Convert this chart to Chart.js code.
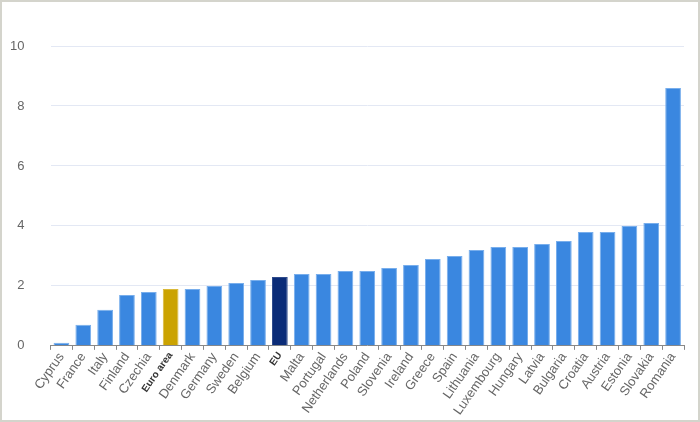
<!DOCTYPE html>
<html>
<head>
<meta charset="utf-8">
<script src="https://cdn.jsdelivr.net/npm/chart.js@4"></script>
<style>
    html, body { margin: 0; padding: 0; background: #fff; }
    #wrap {
        width: 696px;
        height: 418px;
        border: 2px solid #d4d4cc;
        position: relative;
    }
</style>
</head>
<body>
<div id="wrap"><canvas id="chart" width="696" height="418"></canvas></div>
<script>
    var countries = ['Cyprus', 'France', 'Italy', 'Finland', 'Czechia', 'Euro area', 'Denmark', 'Germany', 'Sweden', 'Belgium',
        'EU', 'Malta', 'Portugal', 'Netherlands', 'Poland', 'Slovenia', 'Ireland', 'Greece', 'Spain', 'Lithuania',
        'Luxembourg', 'Hungary', 'Latvia', 'Bulgaria', 'Croatia', 'Austria', 'Estonia', 'Slovakia', 'Romania'];
    var values = [0.1, 0.7, 1.2, 1.7, 1.8, 1.9, 1.9, 2.0, 2.1, 2.2,
        2.3, 2.4, 2.4, 2.5, 2.5, 2.6, 2.7, 2.9, 3.0, 3.2,
        3.3, 3.3, 3.4, 3.5, 3.8, 3.8, 4.0, 4.1, 8.6];
    var yTicks = [0, 2, 4, 6, 8, 10];

    var isAggregate = function(name) {
        return name === 'Euro area' || name === 'EU';
    };

    var barColor = function(name) {
        if (name === 'Euro area') return '#cba300';
        if (name === 'EU') return '#0b2c78';
        return '#3a87e0';
    };

    var borderColor = function(name) {
        if (name === 'Euro area') return '#d9b93a';
        if (name === 'EU') return '#2f4b8c';
        return '#78aeec';
    };

    var ctx = document.getElementById('chart');
    var chart = new Chart(ctx, {
        type: 'bar',
        data: {
            labels: countries,
            datasets: [{
                data: values,
                backgroundColor: countries.map(barColor),
                borderColor: countries.map(borderColor),
                borderWidth: 1,
                categoryPercentage: 0.8,
                barPercentage: 0.9
            }]
        },
        options: {
            responsive: false,
            animation: false,
            layout: {
                padding: { top: 44, right: 14, left: 8, bottom: 2 }
            },
            plugins: {
                legend: { display: false },
                tooltip: { enabled: false }
            },
            scales: {
                x: {
                    afterFit: function(scale) {
                        scale.paddingLeft = 0;
                        scale.paddingRight = 0;
                    },
                    grid: {
                        display: true,
                        drawOnChartArea: false,
                        drawTicks: true,
                        tickLength: 4,
                        color: '#888'
                    },
                    border: { display: true, color: '#888' },
                    ticks: {
                        autoSkip: false,
                        minRotation: 55,
                        maxRotation: 55,
                        padding: 0,
                        color: function(c) {
                            return isAggregate(countries[c.index]) ? '#333' : '#666';
                        },
                        font: function(c) {
                            if (isAggregate(countries[c.index]))
                                return { family: 'Liberation Sans, Arial', size: 10, weight: 'bold' };
                            return { family: 'Liberation Sans, Arial', size: 13 };
                        }
                    }
                },
                y: {
                    min: 0,
                    max: 10,
                    afterBuildTicks: function(axis) {
                        axis.ticks = yTicks.map(function(v) { return { value: v }; });
                    },
                    afterFit: function(scale) {
                        scale.width = 40.5;
                    },
                    grid: {
                        color: function(c) { return c.tick.value === 0 ? 'rgba(0,0,0,0)' : '#e3e8f4'; },
                        drawTicks: false
                    },
                    border: { display: false },
                    ticks: {
                        padding: 26,
                        color: '#666',
                        font: { family: 'Liberation Sans, Arial', size: 13 }
                    }
                }
            }
        }
    });
</script>
</body>
</html>
